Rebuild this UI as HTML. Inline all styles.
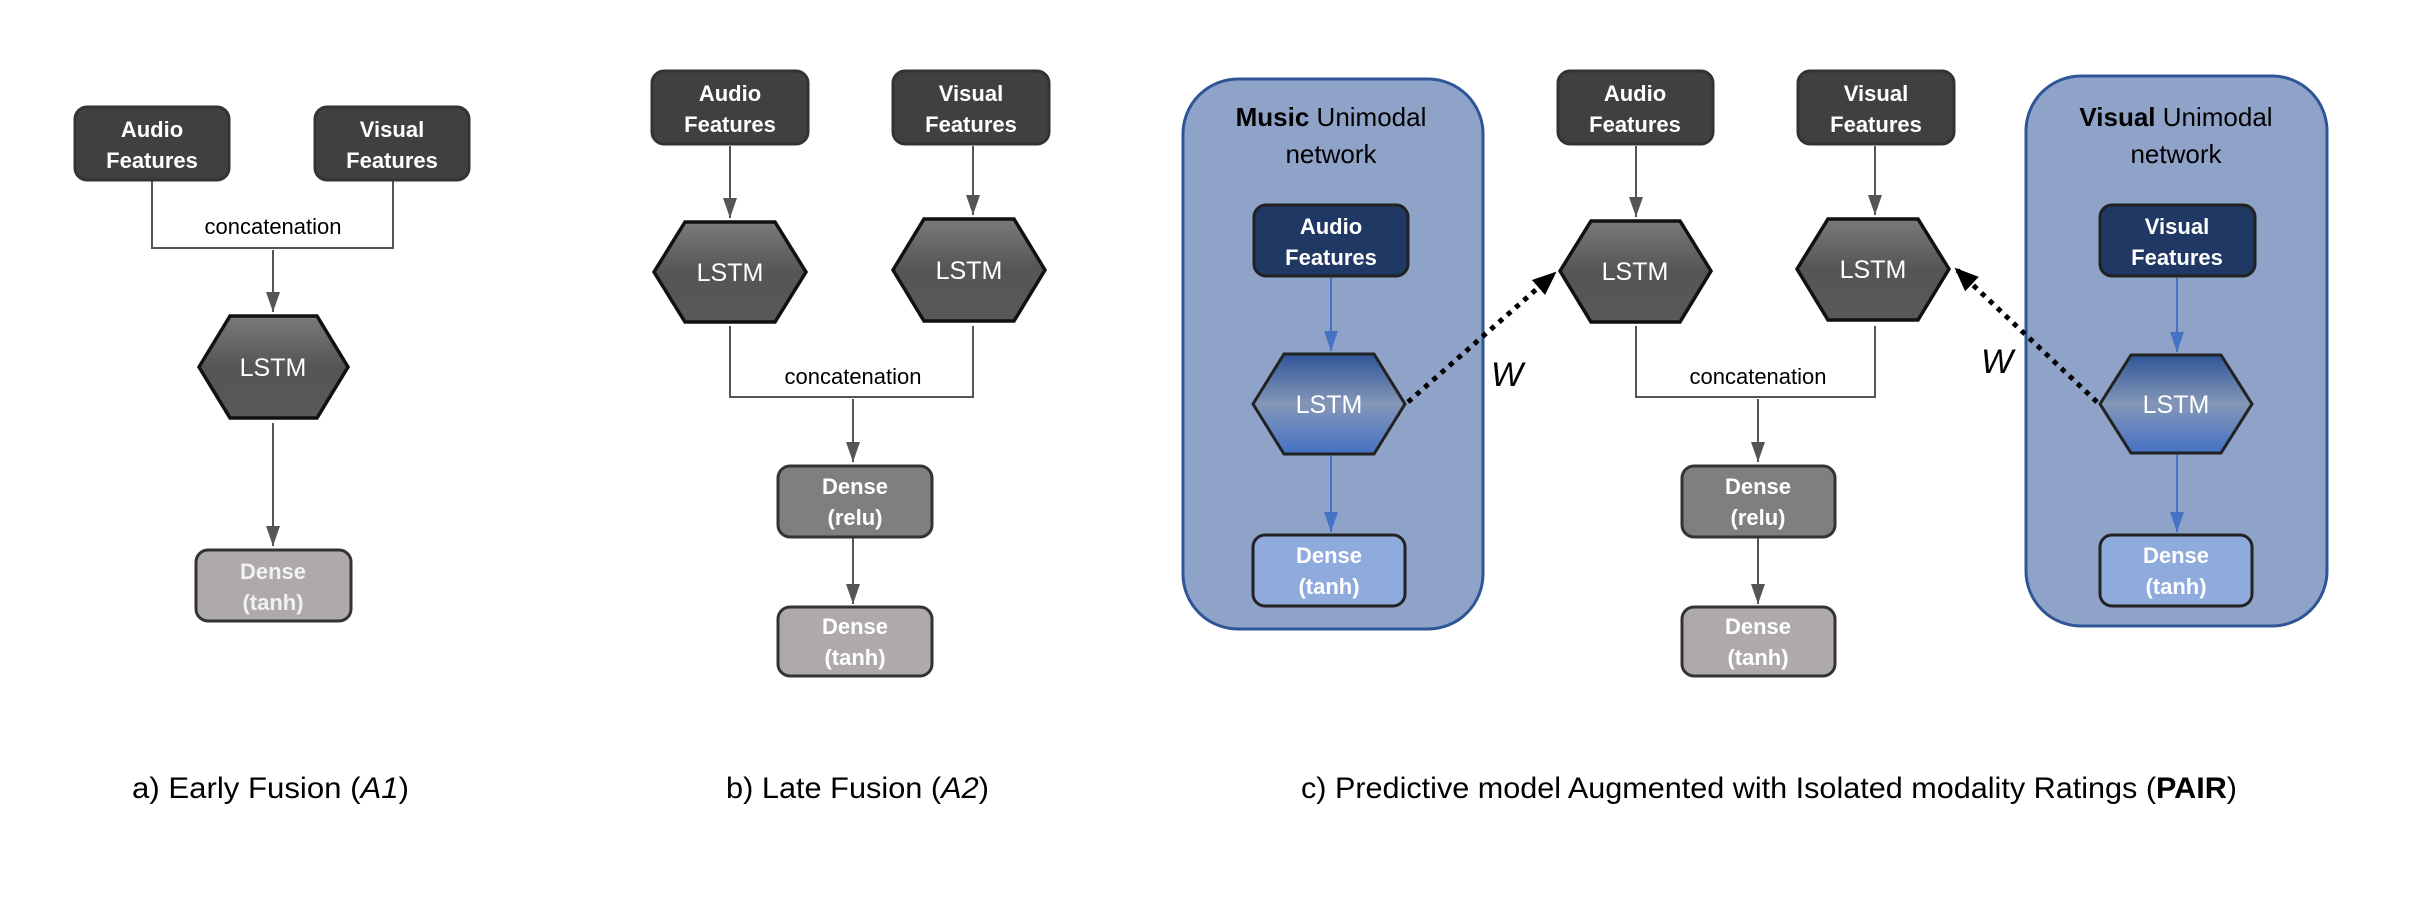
<!DOCTYPE html>
<html><head><meta charset="utf-8"><style>
html,body{margin:0;padding:0;background:#fff;}
svg{display:block;}
text{font-family:"Liberation Sans",sans-serif;}
</style></head><body>
<svg width="2436" height="900" viewBox="0 0 2436 900" xmlns="http://www.w3.org/2000/svg">
<defs>
<linearGradient id="gg" x1="0" y1="0" x2="0" y2="1"><stop offset="0" stop-color="#7a7a7a"/><stop offset="0.5" stop-color="#555"/><stop offset="1" stop-color="#595959"/></linearGradient>
<linearGradient id="bg" x1="0" y1="0" x2="0" y2="1"><stop offset="0" stop-color="#2f5597"/><stop offset="0.5" stop-color="#8497b8"/><stop offset="1" stop-color="#4472c4"/></linearGradient>
<marker id="ag" markerWidth="20" markerHeight="14" refX="20" refY="7" orient="auto" markerUnits="userSpaceOnUse" viewBox="0 0 20 14"><path d="M0,0 L20,7 L0,14 z" fill="#555"/></marker>
<marker id="ab" markerWidth="20" markerHeight="14" refX="20" refY="7" orient="auto" markerUnits="userSpaceOnUse" viewBox="0 0 20 14"><path d="M0,0 L20,7 L0,14 z" fill="#4472c4"/></marker>
<marker id="ak" markerWidth="24" markerHeight="20" refX="22" refY="10" orient="auto" markerUnits="userSpaceOnUse" viewBox="0 0 24 20"><path d="M0,0 L24,10 L0,20 z" fill="#000"/></marker>
</defs>
<g stroke="#555" stroke-width="2" fill="none">
<path d="M152,180 L152,248 L393,248 L393,180"/>
<line x1="273" y1="250" x2="273" y2="312" marker-end="url(#ag)"/>
<line x1="273" y1="423" x2="273" y2="546" marker-end="url(#ag)"/>
<line x1="730" y1="146" x2="730" y2="218" marker-end="url(#ag)"/>
<line x1="973" y1="146" x2="973" y2="215" marker-end="url(#ag)"/>
<path d="M730,326 L730,397 L973,397 L973,326"/>
<line x1="853" y1="399" x2="853" y2="462" marker-end="url(#ag)"/>
<line x1="853" y1="538" x2="853" y2="604" marker-end="url(#ag)"/>
<line x1="1636" y1="146" x2="1636" y2="217" marker-end="url(#ag)"/>
<line x1="1875" y1="146" x2="1875" y2="215" marker-end="url(#ag)"/>
<path d="M1636,326 L1636,397 L1875,397 L1875,326"/>
<line x1="1758" y1="399" x2="1758" y2="462" marker-end="url(#ag)"/>
<line x1="1758" y1="538" x2="1758" y2="604" marker-end="url(#ag)"/>
</g>
<rect x="1183" y="79" width="300" height="550" rx="55" fill="#8fa3c9" stroke="#2f5597" stroke-width="3"/>
<rect x="2026" y="76" width="301" height="550" rx="55" fill="#8fa3c9" stroke="#2f5597" stroke-width="3"/>
<g stroke="#4472c4" stroke-width="2">
<line x1="1331" y1="278" x2="1331" y2="351" marker-end="url(#ab)"/>
<line x1="1331" y1="454" x2="1331" y2="532" marker-end="url(#ab)"/>
<line x1="2177" y1="278" x2="2177" y2="352" marker-end="url(#ab)"/>
<line x1="2177" y1="454" x2="2177" y2="532" marker-end="url(#ab)"/>
</g>
<g stroke="#333" stroke-width="3">
<rect x="75" y="107" width="154" height="73" rx="12" fill="#404040"/>
<rect x="315" y="107" width="154" height="73" rx="12" fill="#404040"/>
<rect x="196" y="550" width="155" height="71" rx="12" fill="#aeaaaa"/>
<rect x="652" y="71" width="156" height="73" rx="12" fill="#404040"/>
<rect x="893" y="71" width="156" height="73" rx="12" fill="#404040"/>
<rect x="778" y="466" width="154" height="71" rx="12" fill="#7f7f7f"/>
<rect x="778" y="607" width="154" height="69" rx="12" fill="#aeaaaa"/>
<rect x="1558" y="71" width="155" height="73" rx="12" fill="#404040"/>
<rect x="1798" y="71" width="156" height="73" rx="12" fill="#404040"/>
<rect x="1682" y="466" width="153" height="71" rx="12" fill="#7f7f7f"/>
<rect x="1682" y="607" width="153" height="69" rx="12" fill="#aeaaaa"/>
<rect x="1254" y="205" width="154" height="71" rx="12" fill="#203864" stroke="#222"/>
<rect x="2100" y="205" width="155" height="71" rx="12" fill="#203864" stroke="#222"/>
<rect x="1253" y="535" width="152" height="71" rx="12" fill="#8faadc" stroke="#222"/>
<rect x="2100" y="535" width="152" height="71" rx="12" fill="#8faadc" stroke="#222"/>
</g>
<g stroke="#111" stroke-width="3.5">
<polygon points="199,367 230,316 317,316 348,367 317,418 230,418" fill="url(#gg)"/>
<polygon points="654,272 685,222 775,222 806,272 775,322 685,322" fill="url(#gg)"/>
<polygon points="893,270 924,219 1014,219 1045,270 1014,321 924,321" fill="url(#gg)"/>
<polygon points="1560,271 1591,221 1680,221 1711,271 1680,322 1591,322" fill="url(#gg)"/>
<polygon points="1797,269 1828,219 1918,219 1949,269 1918,320 1828,320" fill="url(#gg)"/>
</g>
<g stroke="#222" stroke-width="3">
<polygon points="1253,404 1284,354 1374,354 1405,404 1374,454 1284,454" fill="url(#bg)"/>
<polygon points="2100,404 2131,355 2221,355 2252,404 2221,453 2131,453" fill="url(#bg)"/>
</g>
<g stroke="#000" stroke-width="5" stroke-dasharray="5,6" fill="none">
<line x1="1408" y1="402" x2="1555" y2="273" marker-end="url(#ak)"/>
<line x1="2097" y1="402" x2="1956" y2="269" marker-end="url(#ak)"/>
</g>
<text x="1507" y="386" font-family="Liberation Serif,serif" font-style="italic" font-size="34" text-anchor="middle">W</text>
<text x="1997" y="373" font-family="Liberation Serif,serif" font-style="italic" font-size="34" text-anchor="middle">W</text>
<g fill="#fff" font-weight="bold" font-size="22" text-anchor="middle">
<text x="152" y="137">Audio</text><text x="152" y="168">Features</text>
<text x="392" y="137">Visual</text><text x="392" y="168">Features</text>
<text x="273" y="579" fill="#f2f2f2">Dense</text><text x="273" y="610" fill="#f2f2f2">(tanh)</text>
<text x="730" y="101">Audio</text><text x="730" y="132">Features</text>
<text x="971" y="101">Visual</text><text x="971" y="132">Features</text>
<text x="855" y="494">Dense</text><text x="855" y="525">(relu)</text>
<text x="855" y="634">Dense</text><text x="855" y="665">(tanh)</text>
<text x="1635" y="101">Audio</text><text x="1635" y="132">Features</text>
<text x="1876" y="101">Visual</text><text x="1876" y="132">Features</text>
<text x="1758" y="494">Dense</text><text x="1758" y="525">(relu)</text>
<text x="1758" y="634">Dense</text><text x="1758" y="665">(tanh)</text>
<text x="1331" y="234">Audio</text><text x="1331" y="265">Features</text>
<text x="2177" y="234">Visual</text><text x="2177" y="265">Features</text>
<text x="1329" y="563">Dense</text><text x="1329" y="594">(tanh)</text>
<text x="2176" y="563">Dense</text><text x="2176" y="594">(tanh)</text>
</g>
<g fill="#fff" font-size="25" text-anchor="middle">
<text x="273" y="376">LSTM</text>
<text x="730" y="281">LSTM</text>
<text x="969" y="279">LSTM</text>
<text x="1635" y="280">LSTM</text>
<text x="1873" y="278">LSTM</text>
<text x="1329" y="413">LSTM</text>
<text x="2176" y="413">LSTM</text>
</g>
<g fill="#000" font-size="22" text-anchor="middle">
<text x="273" y="234">concatenation</text>
<text x="853" y="384">concatenation</text>
<text x="1758" y="384">concatenation</text>
</g>
<g fill="#000" font-size="26" text-anchor="middle">
<text x="1331" y="126"><tspan font-weight="bold">Music</tspan> Unimodal</text>
<text x="1331" y="163">network</text>
<text x="2176" y="126"><tspan font-weight="bold">Visual</tspan> Unimodal</text>
<text x="2176" y="163">network</text>
</g>
<g fill="#000" font-size="30">
<text x="132" y="798" textLength="277" lengthAdjust="spacingAndGlyphs">a) Early Fusion (<tspan font-style="italic">A1</tspan>)</text>
<text x="726" y="798" textLength="263" lengthAdjust="spacingAndGlyphs">b) Late Fusion (<tspan font-style="italic">A2</tspan>)</text>
<text x="1301" y="798" textLength="936" lengthAdjust="spacingAndGlyphs">c) Predictive model Augmented with Isolated modality Ratings (<tspan font-weight="bold">PAIR</tspan>)</text>
</g>
</svg>
</body></html>
